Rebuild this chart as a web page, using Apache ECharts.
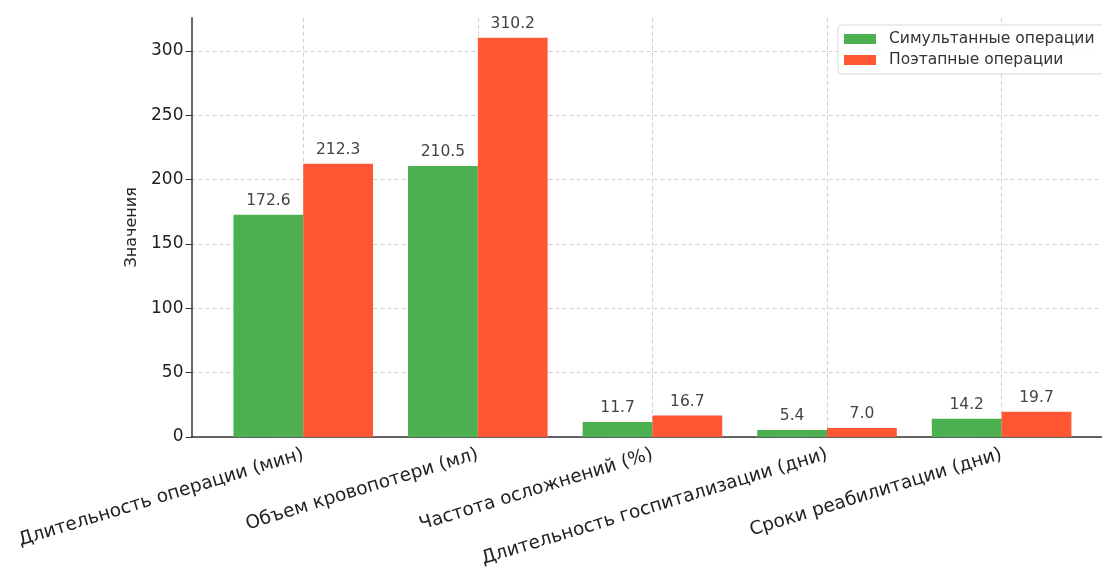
<!DOCTYPE html>
<html><head><meta charset="utf-8">
<script src="https://cdn.jsdelivr.net/npm/echarts@6/dist/echarts.min.js"></script>
<style>html,body{margin:0;padding:0;background:#fff}#c{width:1102px;height:572px}</style>
</head><body><div id="c"></div>
<script>
const categories = ['Длительность операции (мин)','Объем кровопотери (мл)','Частота осложнений (%)','Длительность госпитализации (дни)','Сроки реабилитации (дни)'];
const simultaneous = [172.6, 210.5, 11.7, 5.4, 14.2];
const staged = [212.3, 310.2, 16.7, 7.0, 19.7];
const yTicks = [0, 50, 100, 150, 200, 250, 300];
const seriesNames = ['Симультанные операции','Поэтапные операции'];

const font = 'DejaVu Sans';
const chart = echarts.init(document.getElementById('c'));
const catIdx = categories.map((_, i) => i);
chart.setOption({
  animation: false,
  textStyle: {fontFamily: font},
  grid: {left: 191.5, right: 0, top: 17.8, bottom: 135},
  legend: {
    orient: 'vertical', left: 838, top: 25,
    itemWidth: 32, itemHeight: 10, itemGap: 5,
    padding: [6, 30, 6, 6],
    borderColor: '#d8d8d8', borderWidth: 1, borderRadius: 4,
    backgroundColor: 'rgba(255,255,255,0.9)',
    textStyle: {fontFamily: font, fontSize: 15.5, color: '#333', padding: [0, 0, 0, 8]},
    icon: 'rect',
    data: seriesNames
  },
  xAxis: {
    type: 'value', min: -0.64, max: 4.575,
    axisLine: {show: true, lineStyle: {color: '#333', width: 1.5}},
    axisTick: {show: false, customValues: catIdx},
    axisLabel: {
      customValues: catIdx, rotate: 17, margin: 17,
      fontFamily: font, fontSize: 18.5, color: '#222',
      formatter: v => categories[Math.round(v)]
    },
    splitLine: {show: true, lineStyle: {color: '#d0d0d0', type: [4, 3], width: 1}}
  },
  yAxis: {
    type: 'value', min: 0, max: 325.71,
    name: 'Значения', nameLocation: 'middle', nameGap: 52, nameRotate: 90,
    nameTextStyle: {fontFamily: font, fontSize: 16, color: '#222'},
    axisLine: {show: true, onZero: false, lineStyle: {color: '#333', width: 1.5}},
    axisTick: {show: true, length: 6, inside: false, customValues: yTicks, lineStyle: {color: '#333'}},
    axisLabel: {customValues: yTicks, fontFamily: font, fontSize: 17, color: '#222', margin: 8},
    splitLine: {show: true, lineStyle: {color: '#d0d0d0', type: [4, 3], width: 1}}
  },
  series: [
    {
      name: seriesNames[0], type: 'bar', barWidth: 69.8, barGap: '0%',
      itemStyle: {color: '#4CAF50'},
      label: {show: true, position: 'top', distance: 6, fontFamily: font, fontSize: 15.5, color: '#444', formatter: p => p.value[1].toFixed(1)},
      data: simultaneous.map((v, i) => [catIdx[i], v])
    },
    {
      name: seriesNames[1], type: 'bar', barWidth: 69.8, barGap: '0%',
      itemStyle: {color: '#FF5733'},
      label: {show: true, position: 'top', distance: 6, fontFamily: font, fontSize: 15.5, color: '#444', formatter: p => p.value[1].toFixed(1)},
      data: staged.map((v, i) => [catIdx[i], v])
    }
  ]
});
</script></body></html>
